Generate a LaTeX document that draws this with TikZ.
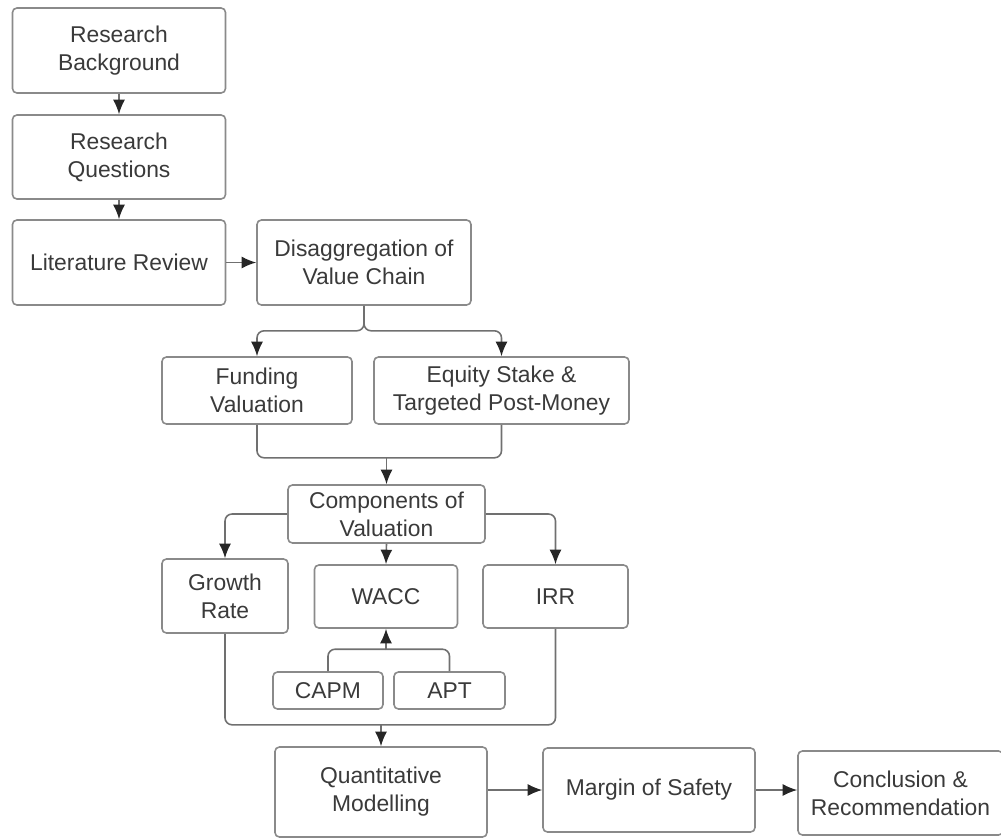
\documentclass[tikz,border=0pt]{standalone}
\usepackage{fontspec}
\setmainfont{Liberation Sans}
\usepackage{tikz}
\usetikzlibrary{positioning,arrows.meta}
\definecolor{boxline}{HTML}{8A8A8A}
\definecolor{conline}{HTML}{707070}
\definecolor{txt}{HTML}{3A3A3A}
\tikzstyle{blk}=[draw=boxline, fill=white, line width=0.9pt, rounded corners=2.5pt, inner sep=0pt, align=center, text=txt, font=\fontsize{13}{16}\selectfont]
\tikzstyle{wire}=[draw=conline, line width=0.9pt, rounded corners=4pt]
\tikzstyle{arr}=[wire, -{Latex[length=2.9mm,width=2.4mm,black!85]}]

\begin{document}
\begin{tikzpicture}
\useasboundingbox (0,0) rectangle (20.02,-16.76);
  \node[blk, minimum width=4.26cm, minimum height=1.7cm] at (2.38,-1.01) (back) {Research\\Background};
  \node[blk, minimum width=4.26cm, minimum height=1.68cm] at (2.38,-3.14) (quest) {Research\\Questions};
  \node[blk, minimum width=4.26cm, minimum height=1.7cm] at (2.38,-5.25) (lit) {Literature Review};
  \node[blk, minimum width=4.28cm, minimum height=1.7cm] at (7.28,-5.25) (disagg) {Disaggregation of\\Value Chain};
\draw[arr] (back) -- (quest);
\draw[arr] (quest) -- (lit);
\draw[arr] (lit) -- (disagg);

  \node[blk, minimum width=3.8cm, minimum height=1.34cm] at (5.14,-7.81) (fund) {Funding\\Valuation};
  \node[blk, minimum width=5.1cm, minimum height=1.34cm] at (10.03,-7.81) (equity) {Equity Stake \&\\Targeted Post-Money};
\draw[arr] (disagg.south) -- ++(0,-0.5) -| (fund.north);
\draw[arr] (disagg.south) -- ++(0,-0.5) -| (equity.north);

  \node[blk, minimum width=3.94cm, minimum height=1.16cm] at (7.73,-10.28) (comp) {Components of\\Valuation};
\draw[wire] (fund.south) -- ++(0,-0.66) -| (equity.south);
\coordinate (join1) at (comp.north |- 0,-9.14);
\draw[arr] (join1) -- (comp.north);

  \node[blk, minimum width=2.52cm, minimum height=1.48cm] at (4.5,-11.92) (growth) {Growth\\Rate};
  \node[blk, minimum width=2.86cm, minimum height=1.26cm] at (7.72,-11.93) (wacc) {WACC};
  \node[blk, minimum width=2.9cm, minimum height=1.26cm] at (11.11,-11.93) (irr) {IRR};
\draw[arr] (comp.west) -| (growth.north);
\draw[arr] (comp.south) -- (wacc.north);
\draw[arr] (comp.east) -| (irr.north);

  \node[blk, minimum width=2.2cm, minimum height=0.74cm] at (6.56,-13.81) (capm) {CAPM};
  \node[blk, minimum width=2.22cm, minimum height=0.74cm] at (8.99,-13.81) (apt) {APT};
\draw[wire] (capm.north) -- ++(0,0.44) -| (apt.north);
\coordinate (join2) at (wacc.south |- 0,-13.0);
\draw[arr] (join2) -- (wacc.south);

  \node[blk, minimum width=4.24cm, minimum height=1.8cm] at (7.62,-15.84) (quant) {Quantitative\\Modelling};
  \node[blk, minimum width=4.24cm, minimum height=1.68cm] at (12.98,-15.8) (margin) {Margin of Safety};
  \node[blk, minimum width=4.1cm, minimum height=1.68cm] at (18.01,-15.86) (concl) {Conclusion \&\\Recommendation};
\draw[wire] (growth.south) -- ++(0,-1.82) -| (irr.south);
\coordinate (join3) at (quant.north |- 0,-14.48);
\draw[arr] (join3) -- (quant.north);
\draw[arr] (quant.east |- margin) -- (margin);
\draw[arr] (margin) -- (concl.west |- margin);
\end{tikzpicture}
\end{document}
